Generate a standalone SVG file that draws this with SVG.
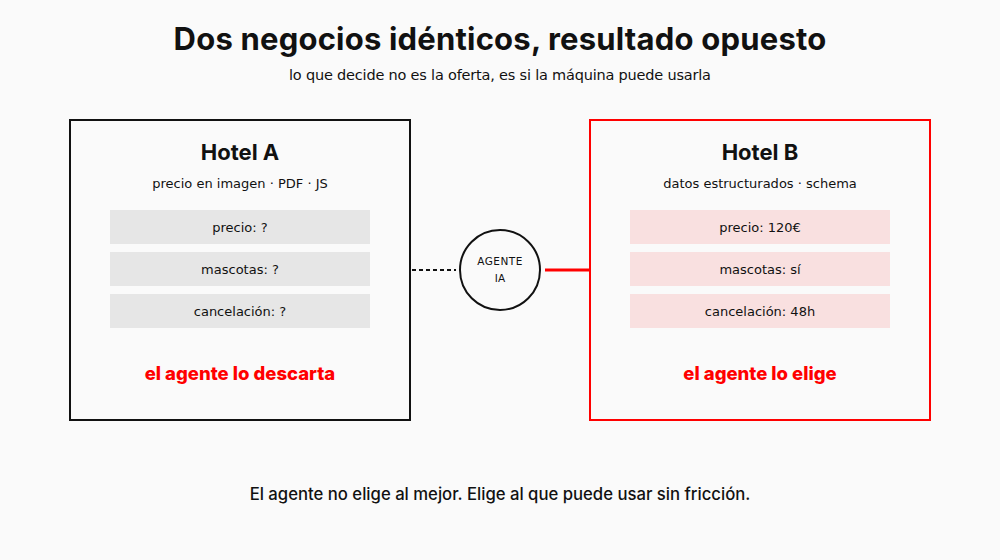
<svg xmlns="http://www.w3.org/2000/svg" width="1000" height="560" viewBox="0 0 1000 560">
<style>
.t{font-family:"Inter","Noto Sans",sans-serif;font-weight:700;fill:#111;text-anchor:middle}
.s{font-family:"DejaVu Sans","Noto Sans",sans-serif;fill:#111;text-anchor:middle;font-size:13px}
.r{font-family:"Inter","Noto Sans",sans-serif;font-weight:800;fill:#ff0000;text-anchor:middle;font-size:18.5px}
</style>
<rect width="1000" height="560" fill="#fafafa"/>
<text class="t" x="500" y="50" font-size="31" letter-spacing="0.2">Dos negocios idénticos, resultado opuesto</text>
<text class="s" x="500" y="80" style="font-size:14.5px" textLength="422">lo que decide no es la oferta, es si la máquina puede usarla</text>
<g id="hotelA">
<rect x="70" y="120" width="340" height="300" fill="none" stroke="#111" stroke-width="2"/>
<text class="t" x="240" y="160" font-size="22">Hotel A</text>
<text class="s" x="240" y="188">precio en imagen · PDF · JS</text>
<rect x="110" y="210" width="260" height="34" fill="#e6e6e6"/>
<text class="s" x="240" y="232">precio: ?</text>
<rect x="110" y="252" width="260" height="34" fill="#e6e6e6"/>
<text class="s" x="240" y="274">mascotas: ?</text>
<rect x="110" y="294" width="260" height="34" fill="#e6e6e6"/>
<text class="s" x="240" y="316">cancelación: ?</text>
<text class="r" x="240" y="380">el agente lo descarta</text>
</g>
<g id="hotelB">
<rect x="590" y="120" width="340" height="300" fill="none" stroke="#ff0000" stroke-width="2"/>
<text class="t" x="760" y="160" font-size="22">Hotel B</text>
<text class="s" x="760" y="188">datos estructurados · schema</text>
<rect x="630" y="210" width="260" height="34" fill="#f9e0e0"/>
<text class="s" x="760" y="232">precio: 120€</text>
<rect x="630" y="252" width="260" height="34" fill="#f9e0e0"/>
<text class="s" x="760" y="274">mascotas: sí</text>
<rect x="630" y="294" width="260" height="34" fill="#f9e0e0"/>
<text class="s" x="760" y="316">cancelación: 48h</text>
<text class="r" x="760" y="380">el agente lo elige</text>
</g>
<g id="agente">
<circle cx="500" cy="270" r="40" fill="none" stroke="#111" stroke-width="2"/>
<text class="s" x="500" y="265" style="font-size:10.5px" letter-spacing="0.5">AGENTE</text>
<text class="s" x="500" y="282" style="font-size:10.5px">IA</text>
</g>
<g id="connectors">
<line x1="412" y1="270" x2="456" y2="270" stroke="#111" stroke-width="2" stroke-dasharray="4,3"/>
<line x1="545" y1="270" x2="589" y2="270" stroke="#ff0000" stroke-width="3"/>
</g>
<text x="500" y="500" text-anchor="middle" font-family="Inter,'Noto Sans',sans-serif" font-weight="500" font-size="16.7" fill="#111">El agente no elige al mejor. Elige al que puede usar sin fricción.</text>
</svg>
